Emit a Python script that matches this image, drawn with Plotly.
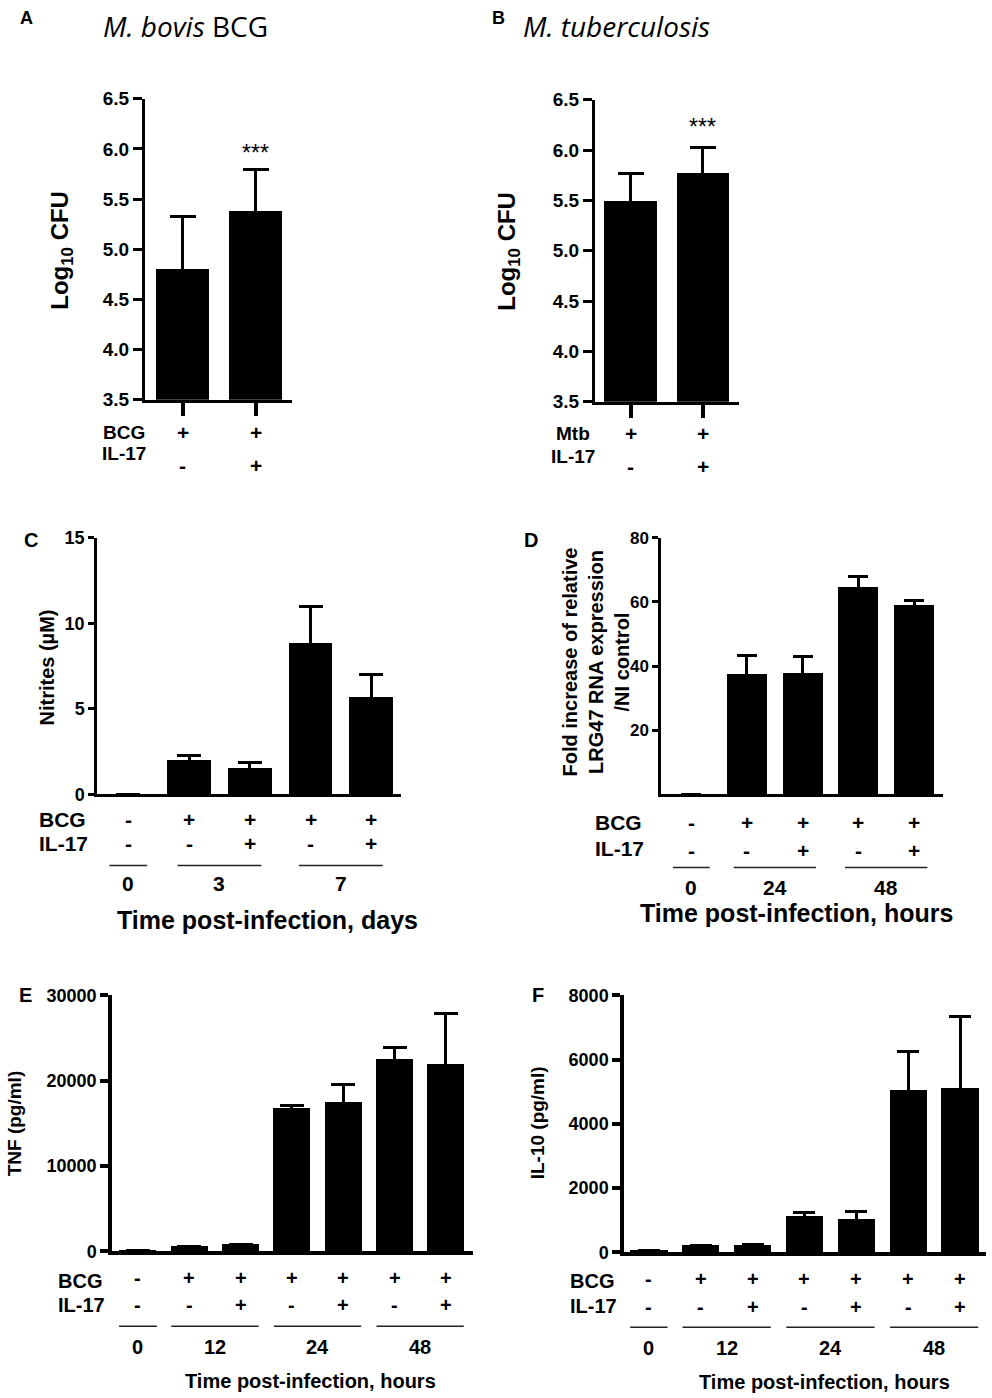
import plotly.graph_objects as go

W, H = 992, 1398
ARIAL = "Liberation Sans, Arial, sans-serif"
TITLE_FONT = "Open Sans, Noto Sans, sans-serif"

# ---- data ----
# A  M. bovis BCG, log10 CFU
a_row1 = ["+", "+"]
a_row2 = ["-", "+"]
a_mean = [4.80, 5.38]
a_err = [0.53, 0.41]
a_stars = ["", "***"]
a_yticks = [3.5, 4.0, 4.5, 5.0, 5.5, 6.0, 6.5]

# B  M. tuberculosis, log10 CFU
b_row1 = ["+", "+"]
b_row2 = ["-", "+"]
b_mean = [5.50, 5.77]
b_err = [0.27, 0.26]
b_stars = ["", "***"]
b_yticks = [3.5, 4.0, 4.5, 5.0, 5.5, 6.0, 6.5]

# C  nitrites (uM), days
c_row1 = ["-", "+", "+", "+", "+"]
c_row2 = ["-", "-", "+", "-", "+"]
c_mean = [0, 2.05, 1.55, 8.85, 5.72]
c_err = [0, 0.25, 0.30, 2.12, 1.28]
c_groups = ["0", "3", "7"]
c_group_span = [(0, 0), (1, 2), (3, 4)]
c_yticks = [0, 5, 10, 15]

# D  LRG47 fold increase, hours
d_row1 = ["-", "+", "+", "+", "+"]
d_row2 = ["-", "-", "+", "-", "+"]
d_mean = [0, 37.8, 38.0, 64.6, 59.2]
d_err = [0, 5.4, 4.9, 3.2, 1.2]
d_groups = ["0", "24", "48"]
d_group_span = [(0, 0), (1, 2), (3, 4)]
d_yticks = [20, 40, 60, 80]

# E  TNF (pg/ml), hours
e_row1 = ["-", "+", "+", "+", "+", "+", "+"]
e_row2 = ["-", "-", "+", "-", "+", "-", "+"]
e_mean = [100, 600, 750, 16750, 17450, 22500, 21900]
e_err = [0, 0, 0, 350, 2050, 1400, 6000]
e_groups = ["0", "12", "24", "48"]
e_group_span = [(0, 0), (1, 2), (3, 4), (5, 6)]
e_yticks = [0, 10000, 20000, 30000]

# F  IL-10 (pg/ml), hours
f_row1 = ["-", "+", "+", "+", "+", "+", "+"]
f_row2 = ["-", "-", "+", "-", "+", "-", "+"]
f_mean = [50, 220, 230, 1120, 1030, 5050, 5100]
f_err = [0, 0, 0, 125, 250, 1210, 2230]
f_groups = ["0", "12", "24", "48"]
f_group_span = [(0, 0), (1, 2), (3, 4), (5, 6)]
f_yticks = [0, 2000, 4000, 6000, 8000]

# the photographed page comes out slightly squeezed vertically; undo it
SY, OY = 0.9854, 9.2


def px(x):
    return x / W


def py(y):
    return 1 - ((y - OY) / SY) / H


def ann(text, x, y, size=18, bold=True, xref="paper", xanchor="center",
        angle=0, family=ARIAL):
    return dict(text=text, x=px(x) if xref == "paper" else x, y=py(y),
                xref=xref, yref="paper", showarrow=False, xanchor=xanchor,
                yanchor="middle", textangle=angle, borderpad=0,
                font=dict(family=family, size=size, color="black",
                          weight="bold" if bold else "normal"))


fig = go.Figure()
annotations = []
shapes = []

# panel frames: axis pixel boxes, ranges and styling
panels = [
    dict(mean=a_mean, err=a_err, yt=a_yticks, xb=(145, 292), yb=(98, 399),
         xr=(-0.514, 1.5), yr=(3.5, 6.5), lw=3, tl=9, cap=13, xticks=True,
         fmt=".1f", fs=19),
    dict(mean=b_mean, err=b_err, yt=b_yticks, xb=(595, 739), yb=(99, 401),
         xr=(-0.49, 1.497), yr=(3.5, 6.5), lw=3, tl=9, cap=13, xticks=True,
         fmt=".1f", fs=19),
    dict(mean=c_mean, err=c_err, yt=c_yticks, xb=(97, 401), yb=(537, 794),
         xr=(-0.516, 4.49), yr=(0, 15), lw=2.5, tl=6, cap=12, xticks=False,
         fmt="d", fs=18),
    dict(mean=d_mean, err=d_err, yt=d_yticks, xb=(661, 943), yb=(537, 794),
         xr=(-0.544, 4.52), yr=(0, 80), lw=2.5, tl=6, cap=10, xticks=False,
         fmt="d", fs=17),
    dict(mean=e_mean, err=e_err, yt=e_yticks, xb=(112, 473), yb=(995, 1251),
         xr=(-0.506, 6.53), yr=(0, 30000), lw=3.5, tl=8, cap=12,
         xticks=False, fmt="d", fs=18),
    dict(mean=f_mean, err=f_err, yt=f_yticks, xb=(624, 986), yb=(995, 1252),
         xr=(-0.48, 6.50), yr=(0, 8000), lw=3.5, tl=8, cap=11, xticks=False,
         fmt="d", fs=18),
]

for k, p in enumerate(panels, start=1):
    n = len(p["mean"])
    sfx = "" if k == 1 else str(k)
    # upper whisker only; the lower part stays hidden inside the bar
    up = [e if e > 0 else None for e in p["err"]]
    down = [e / 2 if e > 0 else None for e in p["err"]]
    fig.add_trace(go.Bar(
        x=list(range(n)), y=p["mean"], width=0.72,
        marker=dict(color="black", line=dict(width=0)),
        error_y=dict(type="data", array=up, arrayminus=down,
                     symmetric=False, color="black", thickness=3,
                     width=p["cap"]),
        xaxis="x" + sfx, yaxis="y" + sfx, showlegend=False,
        hoverinfo="skip"))
    fig.layout["xaxis" + sfx] = dict(
        domain=[px(p["xb"][0]), px(p["xb"][1])], range=list(p["xr"]),
        anchor="y" + sfx, showline=True, linecolor="black",
        linewidth=p["lw"], showgrid=False, zeroline=False,
        showticklabels=False, tickvals=list(range(n)),
        ticks="outside" if p["xticks"] else "", ticklen=13,
        tickwidth=4, tickcolor="black", fixedrange=True)
    fig.layout["yaxis" + sfx] = dict(
        domain=[py(p["yb"][1]), py(p["yb"][0])], range=list(p["yr"]),
        anchor="x" + sfx, showline=True, linecolor="black",
        linewidth=p["lw"], showgrid=False, zeroline=False,
        tickvals=p["yt"], tickformat=p["fmt"], ticks="outside",
        ticklen=p["tl"], tickwidth=p["lw"], tickcolor="black",
        tickfont=dict(family=ARIAL, size=p["fs"], color="black",
                      weight="bold"),
        fixedrange=True)

# ---- titles & panel letters ----
annotations += [
    ann("A", 26, 17, size=18),
    ann("<i>M. bovis</i> BCG", 102, 25, size=28, bold=False, xanchor="left",
        family=TITLE_FONT),
    ann("B", 498, 17, size=18),
    ann("<i>M. tuberculosis</i>", 522, 25, size=28, bold=False,
        xanchor="left", family=TITLE_FONT),
    ann("C", 31, 539, size=20),
    ann("D", 531, 539, size=20),
    ann("E", 25, 995, size=20),
    ann("F", 538, 995, size=20),
]

# ---- y-axis titles ----
annotations += [
    ann("Log<sub>10</sub> CFU", 62, 250, size=24, angle=-90),
    ann("Log<sub>10</sub> CFU", 509, 250, size=24, angle=-90),
    ann("Nitrites (\u00b5M)", 47, 667, size=20, angle=-90),
    ann("Fold increase of relative<br>LRG47 RNA expression<br>/NI control",
        596, 662, size=20, angle=-90),
    ann("TNF (pg/ml)", 14, 1123, size=19, angle=-90),
    ann("IL-10 (pg/ml)", 537, 1123, size=19, angle=-90),
]

# ---- x-axis titles ----
annotations += [
    ann("Time post-infection, days", 267, 920, size=25),
    ann("Time post-infection, hours", 796, 913, size=25),
    ann("Time post-infection, hours", 310, 1381, size=20),
    ann("Time post-infection, hours", 824, 1382, size=20),
]

# ---- significance stars ----
for xa, stars, ystar in [("x", a_stars, 152), ("x2", b_stars, 126)]:
    for i, s in enumerate(stars):
        if s:
            annotations.append(ann(s, i, ystar, size=23, bold=False, xref=xa))

# ---- treatment rows (+/-) ----
rows = [
    # xref, row1 label, row1, row2, y label1, y signs1, y label2, y signs2,
    # label x, anchor, label size, sign size
    ("x", "BCG", a_row1, a_row2, 432, 432, 453, 465, 124, "center", 19, 21),
    ("x2", "Mtb", b_row1, b_row2, 433, 433, 456, 466, 573, "center", 19, 21),
    ("x3", "BCG", c_row1, c_row2, 819, 819, 843, 843, 38, "left", 21, 21),
    ("x4", "BCG", d_row1, d_row2, 822, 822, 848, 850, 594, "left", 21, 21),
    ("x5", "BCG", e_row1, e_row2, 1281, 1278, 1305, 1305, 57, "left", 20, 20),
    ("x6", "BCG", f_row1, f_row2, 1281, 1279, 1306, 1307, 569, "left", 20, 20),
]
for xa, lab, r1, r2, yl1, ys1, yl2, ys2, lx, anc, ls, ss in rows:
    annotations.append(ann(lab, lx, yl1, size=ls, xanchor=anc))
    annotations.append(ann("IL-17", lx, yl2, size=ls, xanchor=anc))
    for i, s in enumerate(r1):
        annotations.append(ann(s, i, ys1, size=ss, xref=xa))
    for i, s in enumerate(r2):
        annotations.append(ann(s, i, ys2, size=ss, xref=xa))

# ---- time groups: line + label ----
groups = [
    ("x3", c_groups, c_group_span, 865, 883, 0.31, 0.19, 21),
    ("x4", d_groups, d_group_span, 867, 887, 0.33, 0.24, 21),
    ("x5", e_groups, e_group_span, 1326, 1347, 0.37, 0.35, 20),
    ("x6", f_groups, f_group_span, 1327, 1348, 0.36, 0.35, 20),
]
for xa, labels, spans, yline, ylab, pad1, pad2, fs in groups:
    for lab, (i0, i1) in zip(labels, spans):
        pad = pad1 if i0 == i1 else pad2
        shapes.append(dict(type="line", xref=xa, yref="paper",
                           x0=i0 - pad, x1=i1 + pad, y0=py(yline),
                           y1=py(yline), line=dict(color="#222", width=1.5)))
        annotations.append(ann(lab, (i0 + i1) / 2, ylab, size=fs, xref=xa))

fig.update_layout(
    width=W, height=H, margin=dict(l=0, r=0, t=0, b=0),
    paper_bgcolor="white", plot_bgcolor="white",
    bargap=0, showlegend=False,
    annotations=annotations, shapes=shapes,
)

fig.write_html("out.html", config={"displayModeBar": False},
               post_script="document.body.style.margin='0';")
